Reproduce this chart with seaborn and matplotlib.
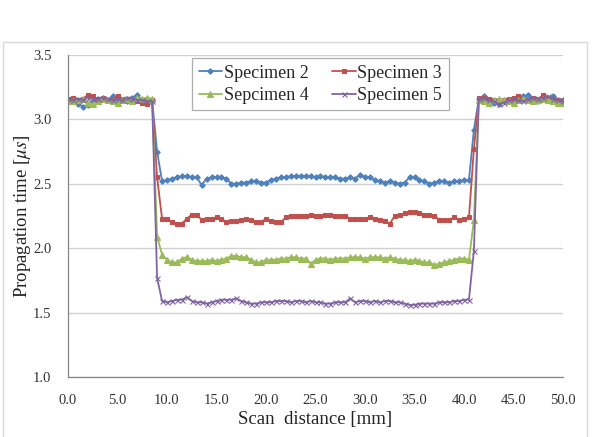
import numpy as np
import pandas as pd
import matplotlib
matplotlib.use("Agg")
import matplotlib.pyplot as plt
from matplotlib.patches import Rectangle
import seaborn as sns

# Scan positions [mm], 0.5 mm pitch
scan_mm = [
    0.0, 0.5, 1.0, 1.5, 2.0, 2.5, 3.0, 3.5, 4.0, 4.5,
    5.0, 5.5, 6.0, 6.5, 7.0, 7.5, 8.0, 8.5, 9.0, 9.5,
    10.0, 10.5, 11.0, 11.5, 12.0, 12.5, 13.0, 13.5, 14.0, 14.5,
    15.0, 15.5, 16.0, 16.5, 17.0, 17.5, 18.0, 18.5, 19.0, 19.5,
    20.0, 20.5, 21.0, 21.5, 22.0, 22.5, 23.0, 23.5, 24.0, 24.5,
    25.0, 25.5, 26.0, 26.5, 27.0, 27.5, 28.0, 28.5, 29.0, 29.5,
    30.0, 30.5, 31.0, 31.5, 32.0, 32.5, 33.0, 33.5, 34.0, 34.5,
    35.0, 35.5, 36.0, 36.5, 37.0, 37.5, 38.0, 38.5, 39.0, 39.5,
    40.0, 40.5, 41.0, 41.5, 42.0, 42.5, 43.0, 43.5, 44.0, 44.5,
    45.0, 45.5, 46.0, 46.5, 47.0, 47.5, 48.0, 48.5, 49.0, 49.5,
    50.0,
]

# Propagation time [us]
specimen_2 = [
    3.15, 3.16, 3.12, 3.10, 3.11, 3.14, 3.16, 3.17, 3.15, 3.18,
    3.16, 3.15, 3.14, 3.17, 3.19, 3.15, 3.14, 3.15, 2.75, 2.52,
    2.53, 2.54, 2.55, 2.56, 2.56, 2.55, 2.55, 2.49, 2.54, 2.55,
    2.55, 2.55, 2.54, 2.50, 2.50, 2.51, 2.51, 2.52, 2.52, 2.51,
    2.51, 2.53, 2.54, 2.55, 2.55, 2.56, 2.56, 2.56, 2.56, 2.56,
    2.55, 2.56, 2.55, 2.55, 2.55, 2.54, 2.54, 2.55, 2.54, 2.57,
    2.55, 2.55, 2.53, 2.52, 2.51, 2.52, 2.51, 2.50, 2.51, 2.55,
    2.55, 2.53, 2.52, 2.50, 2.51, 2.52, 2.52, 2.51, 2.52, 2.52,
    2.53, 2.53, 2.92, 3.16, 3.18, 3.15, 3.13, 3.12, 3.14, 3.15,
    3.15, 3.17, 3.18, 3.19, 3.15, 3.14, 3.16, 3.17, 3.18, 3.15,
    3.15,
]
specimen_3 = [
    3.16, 3.17, 3.15, 3.16, 3.19, 3.18, 3.16, 3.17, 3.15, 3.16,
    3.18, 3.16, 3.15, 3.15, 3.14, 3.13, 3.12, 3.15, 2.55, 2.23,
    2.23, 2.20, 2.19, 2.19, 2.23, 2.26, 2.26, 2.22, 2.23, 2.23,
    2.24, 2.23, 2.20, 2.21, 2.21, 2.22, 2.23, 2.22, 2.20, 2.20,
    2.23, 2.21, 2.20, 2.20, 2.24, 2.25, 2.25, 2.25, 2.25, 2.26,
    2.25, 2.25, 2.26, 2.26, 2.25, 2.25, 2.25, 2.23, 2.23, 2.23,
    2.23, 2.24, 2.23, 2.22, 2.21, 2.19, 2.25, 2.26, 2.27, 2.28,
    2.28, 2.27, 2.26, 2.26, 2.25, 2.22, 2.22, 2.22, 2.24, 2.22,
    2.23, 2.24, 2.77, 3.17, 3.17, 3.16, 3.15, 3.14, 3.15, 3.16,
    3.17, 3.18, 3.16, 3.15, 3.17, 3.16, 3.19, 3.17, 3.16, 3.15,
    3.14,
]
specimen_4 = [
    3.14, 3.14, 3.15, 3.16, 3.13, 3.12, 3.14, 3.16, 3.15, 3.14,
    3.13, 3.15, 3.16, 3.14, 3.17, 3.16, 3.17, 3.16, 2.09, 1.95,
    1.91, 1.89, 1.89, 1.92, 1.93, 1.91, 1.90, 1.90, 1.90, 1.91,
    1.90, 1.91, 1.92, 1.94, 1.94, 1.93, 1.93, 1.91, 1.89, 1.89,
    1.91, 1.91, 1.91, 1.92, 1.92, 1.93, 1.93, 1.92, 1.92, 1.88,
    1.91, 1.92, 1.92, 1.91, 1.92, 1.92, 1.92, 1.93, 1.93, 1.93,
    1.92, 1.93, 1.93, 1.93, 1.92, 1.93, 1.92, 1.91, 1.91, 1.90,
    1.91, 1.90, 1.89, 1.89, 1.87, 1.88, 1.89, 1.90, 1.91, 1.92,
    1.92, 1.91, 2.22, 3.15, 3.14, 3.13, 3.15, 3.16, 3.15, 3.14,
    3.13, 3.15, 3.16, 3.15, 3.14, 3.15, 3.16, 3.15, 3.14, 3.13,
    3.13,
]
specimen_5 = [
    3.16, 3.15, 3.16, 3.15, 3.17, 3.16, 3.16, 3.17, 3.16, 3.15,
    3.16, 3.15, 3.17, 3.16, 3.15, 3.15, 3.14, 3.14, 1.77, 1.59,
    1.58, 1.59, 1.60, 1.60, 1.62, 1.59, 1.58, 1.58, 1.57, 1.58,
    1.59, 1.60, 1.60, 1.60, 1.61, 1.59, 1.58, 1.57, 1.57, 1.58,
    1.58, 1.58, 1.59, 1.59, 1.59, 1.58, 1.59, 1.59, 1.58, 1.59,
    1.58, 1.58, 1.57, 1.57, 1.58, 1.58, 1.58, 1.61, 1.58, 1.59,
    1.59, 1.58, 1.59, 1.58, 1.59, 1.59, 1.58, 1.58, 1.57, 1.56,
    1.56, 1.57, 1.57, 1.57, 1.57, 1.58, 1.58, 1.58, 1.59, 1.59,
    1.60, 1.60, 1.98, 3.16, 3.17, 3.15, 3.14, 3.12, 3.13, 3.15,
    3.16, 3.15, 3.14, 3.16, 3.17, 3.16, 3.17, 3.18, 3.16, 3.15,
    3.14,
]

labels = ["Specimen 2", "Specimen 3", "Sepcimen 4", "Specimen 5"]
colors = ["#4F81BD", "#C0504D", "#9BBB59", "#8064A2"]
markers = ["D", "s", "^", "x"]
msizes = [2.8, 3.2, 3.8, 3.6]

sns.set_style("white")
plt.rcParams["font.family"] = ["Liberation Serif", "DejaVu Serif"]
plt.rcParams["mathtext.fontset"] = "stix"

fig = plt.figure(figsize=(5.94, 4.37), dpi=100)
ax = fig.add_axes([68 / 594, 1 - 377 / 437, 495 / 594, 322 / 437])

# outer chart border
fig.patches.append(Rectangle((3 / 594, -0.02), 584 / 594, 1 - 42 / 437 + 0.02,
                             transform=fig.transFigure, fill=False,
                             edgecolor="#d9d9d9", linewidth=1.0))

series = [specimen_2, specimen_3, specimen_4, specimen_5]
for vals, lab, col, mk, ms in zip(series, labels, colors, markers, msizes):
    df = pd.DataFrame({"x": scan_mm, "y": vals})
    sns.lineplot(data=df, x="x", y="y", ax=ax, color=col, marker=mk,
                 markersize=ms, markeredgecolor=col, markeredgewidth=0.8,
                 linewidth=1.3, label=lab)

ax.set_xlim(0, 50)
ax.set_ylim(1.0, 3.5)
ax.set_xticks(np.arange(0, 50.1, 5))
ax.set_yticks(np.arange(1.0, 3.51, 0.5))
ax.set_xticklabels([f"{v:.1f}" for v in np.arange(0, 50.1, 5)])
ax.set_yticklabels([f"{v:.1f}" for v in np.arange(1.0, 3.51, 0.5)])
ax.tick_params(axis="both", labelsize=10.5, length=4, width=0.8,
               direction="out", pad=8, colors="#868686", labelcolor="#333333")

ax.grid(axis="y", color="#d0d0d0", linewidth=1.0)
ax.grid(axis="x", visible=False)
ax.set_axisbelow(True)
for side in ["top", "right"]:
    ax.spines[side].set_visible(False)
for side in ["left", "bottom"]:
    ax.spines[side].set_color("#868686")
    ax.spines[side].set_linewidth(0.9)

ax.set_xlabel("Scan  distance [mm]", fontsize=13.5, color="#222222", labelpad=3)
ax.set_ylabel(r"Propagation time [$\mu s$]", fontsize=13.5, color="#222222", labelpad=0)

# legend filled row-wise like the original (2 | 3 / 4 | 5)
handles, labs = ax.get_legend_handles_labels()
order = [0, 2, 1, 3]
leg = ax.legend([handles[i] for i in order], [labs[i] for i in order],
                loc="upper center", bbox_to_anchor=(0.51, 0.99), ncol=2,
                fontsize=13, frameon=True, fancybox=False, handlelength=1.3,
                handletextpad=0.1, columnspacing=1.3, borderpad=0.35,
                labelspacing=0.3, borderaxespad=0)
leg.get_frame().set_edgecolor("#9a9a9a")
leg.get_frame().set_linewidth(0.9)

fig.savefig("out.png", dpi=100)
